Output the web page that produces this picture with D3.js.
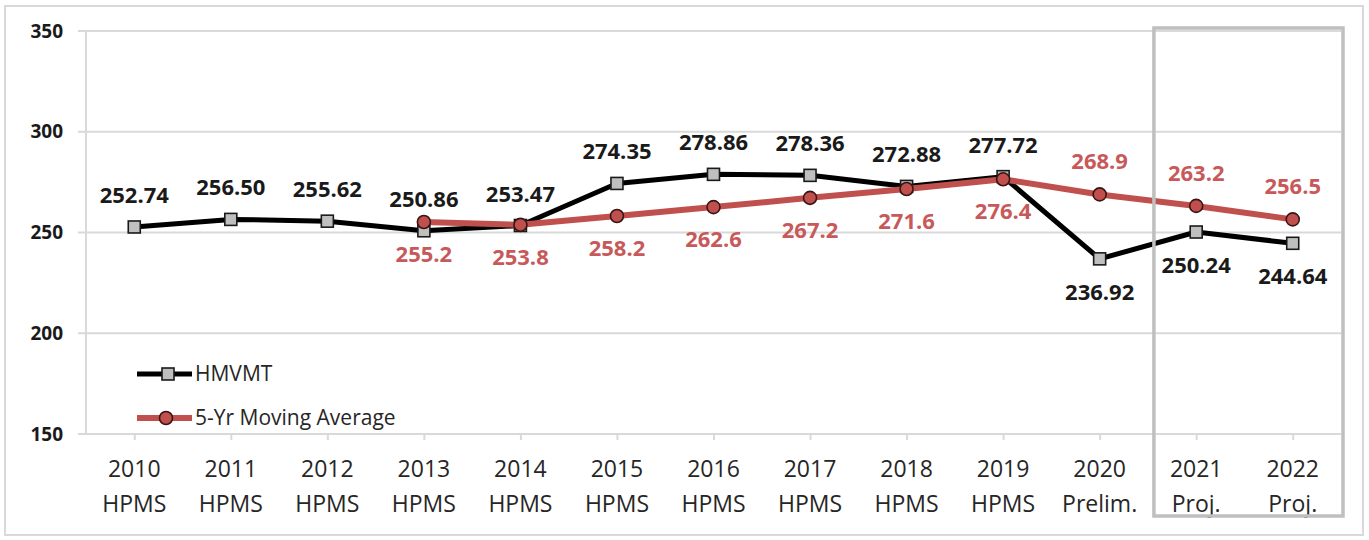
<!DOCTYPE html>
<html>
<head>
<meta charset="utf-8">
<script src="https://cdn.jsdelivr.net/npm/d3@7"></script>
<style>
  html, body { margin: 0; padding: 0; background: #fff; }
  svg { display: block; }
</style>
</head>
<body>
<svg id="chart" width="1369" height="540"></svg>
<script>
// Category labels (two lines each)
const years = ["2010", "2011", "2012", "2013", "2014", "2015", "2016", "2017", "2018", "2019", "2020", "2021", "2022"];
const sources = ["HPMS", "HPMS", "HPMS", "HPMS", "HPMS", "HPMS", "HPMS", "HPMS", "HPMS", "HPMS", "Prelim.", "Proj.", "Proj."];

// Hundred-million vehicle miles traveled
const hmvmt = [252.74, 256.50, 255.62, 250.86, 253.47, 274.35, 278.86, 278.36, 272.88, 277.72, 236.92, 250.24, 244.64];
const hmvmtLabels = ["252.74", "256.50", "255.62", "250.86", "253.47", "274.35", "278.86", "278.36", "272.88", "277.72", "236.92", "250.24", "244.64"];

// Five-year moving average (starts in 2013)
const movingAvg = [null, null, null, 255.2, 253.8, 258.2, 262.6, 267.2, 271.6, 276.4, 268.9, 263.2, 256.5];
const movingAvgLabels = ["", "", "", "255.2", "253.8", "258.2", "262.6", "267.2", "271.6", "276.4", "268.9", "263.2", "256.5"];

const yTicks = [150, 200, 250, 300, 350];
const projectedYears = ["2021", "2022"];
const legendNames = ["HMVMT", "5-Yr Moving Average"];

const svg = d3.select("#chart");
const font = "'Open Sans', sans-serif";
const RED = "#c0504d";

const plot = { left: 86, right: 1341, top: 31, bottom: 434 };

const x = d3.scalePoint().domain(years).range([plot.left, plot.right]).padding(0.5);
const y = d3.scaleLinear().domain([150, 350]).range([plot.bottom, plot.top]);

// Outer frame
svg.append("rect")
  .attr("x", 5).attr("y", 6).attr("width", 1358).attr("height", 529)
  .attr("fill", "none").attr("stroke", "#d9d9d9").attr("stroke-width", 2);

// Horizontal gridlines
svg.append("g").selectAll("line").data(yTicks).join("line")
  .attr("x1", plot.left - 8).attr("x2", plot.right)
  .attr("y1", d => y(d)).attr("y2", d => y(d))
  .attr("stroke", "#d9d9d9").attr("stroke-width", 2);

// Vertical axis line
svg.append("line")
  .attr("x1", plot.left).attr("x2", plot.left)
  .attr("y1", plot.top).attr("y2", plot.bottom)
  .attr("stroke", "#d9d9d9").attr("stroke-width", 2);

// Y tick labels
svg.append("g").selectAll("text").data(yTicks).join("text")
  .attr("x", 63).attr("y", d => y(d))
  .attr("dy", "0.35em")
  .attr("text-anchor", "end")
  .attr("font-family", font).attr("font-weight", "bold").attr("font-size", 19)
  .attr("fill", "#1a1a1a")
  .text(d => d);

// X axis ticks and labels
const xAxis = d3.axisBottom(x).tickSize(6).tickFormat("");
const gx = svg.append("g").attr("transform", `translate(0,${plot.bottom})`).call(xAxis);
gx.select(".domain").remove();
gx.selectAll(".tick line").attr("stroke", "#d9d9d9").attr("stroke-width", 2);

const xl = svg.append("g").selectAll("text").data(years).join("text")
  .attr("x", d => x(d))
  .attr("text-anchor", "middle")
  .attr("font-family", font).attr("font-size", 23)
  .attr("fill", "#262626");
xl.append("tspan").attr("x", d => x(d)).attr("y", 477).text(d => d);
xl.append("tspan").attr("x", d => x(d)).attr("y", 512).text((d, i) => sources[i]);

// HMVMT series
const blackPts = years.map((yr, i) => ({ yr, v: hmvmt[i], label: hmvmtLabels[i], i }));
const line = d3.line().x(d => x(d.yr)).y(d => y(d.v));

svg.append("path").datum(blackPts)
  .attr("d", line).attr("fill", "none")
  .attr("stroke", "#000").attr("stroke-width", 5).attr("stroke-linejoin", "round");

svg.append("g").selectAll("rect").data(blackPts).join("rect")
  .attr("x", d => x(d.yr) - 6).attr("y", d => y(d.v) - 6)
  .attr("width", 12).attr("height", 12)
  .attr("fill", "#bfbfbf").attr("stroke", "#1a1a1a").attr("stroke-width", 1.6);

// Moving average series
const redPts = years.map((yr, i) => ({ yr, v: movingAvg[i], label: movingAvgLabels[i], i }))
  .filter(d => d.v !== null);

svg.append("path").datum(redPts)
  .attr("d", line).attr("fill", "none")
  .attr("stroke", RED).attr("stroke-width", 6).attr("stroke-linejoin", "round");

svg.append("g").selectAll("circle").data(redPts).join("circle")
  .attr("cx", d => x(d.yr)).attr("cy", d => y(d.v)).attr("r", 6.5)
  .attr("fill", RED).attr("stroke", "#3a1414").attr("stroke-width", 1.6);

// Value labels: black above through 2019, below afterwards; red the opposite
svg.append("g").selectAll("text").data(blackPts).join("text")
  .attr("x", d => x(d.yr))
  .attr("y", d => d.i < 10 ? y(d.v) - 24 : y(d.v) + 41)
  .attr("text-anchor", "middle")
  .attr("font-family", font).attr("font-weight", "bold").attr("font-size", 22)
  .attr("fill", "#1a1a1a")
  .text(d => d.label);

svg.append("g").selectAll("text").data(redPts).join("text")
  .attr("x", d => x(d.yr))
  .attr("y", d => d.i < 10 ? y(d.v) + 40 : y(d.v) - 25)
  .attr("text-anchor", "middle")
  .attr("font-family", font).attr("font-weight", "bold").attr("font-size", 22)
  .attr("fill", "#c8595a")
  .text(d => d.label);

// Box around projected years
const step = x.step();
svg.append("rect")
  .attr("x", x(projectedYears[0]) - step / 2 + 6)
  .attr("y", 28)
  .attr("width", (x(projectedYears[1]) - x(projectedYears[0])) + step - 4)
  .attr("height", 488)
  .attr("fill", "none").attr("stroke", "#bfbfbf").attr("stroke-width", 3.5);

// Legend
const legend = svg.append("g");
const legendY = [374, 418];
legend.append("line").attr("x1", 137).attr("x2", 192).attr("y1", legendY[0]).attr("y2", legendY[0])
  .attr("stroke", "#000").attr("stroke-width", 5);
legend.append("rect").attr("x", 162).attr("y", legendY[0] - 6).attr("width", 12).attr("height", 12)
  .attr("fill", "#bfbfbf").attr("stroke", "#1a1a1a").attr("stroke-width", 1.6);
legend.append("line").attr("x1", 137).attr("x2", 192).attr("y1", legendY[1]).attr("y2", legendY[1])
  .attr("stroke", RED).attr("stroke-width", 6);
legend.append("circle").attr("cx", 166).attr("cy", legendY[1]).attr("r", 6.5)
  .attr("fill", RED).attr("stroke", "#3a1414").attr("stroke-width", 1.6);
legend.selectAll("text.lg").data(legendNames).join("text")
  .attr("class", "lg")
  .attr("x", 195).attr("y", (d, i) => legendY[i])
  .attr("dy", "0.35em")
  .attr("font-family", font).attr("font-size", 21)
  .attr("fill", "#262626")
  .text(d => d);
</script>
</body>
</html>
